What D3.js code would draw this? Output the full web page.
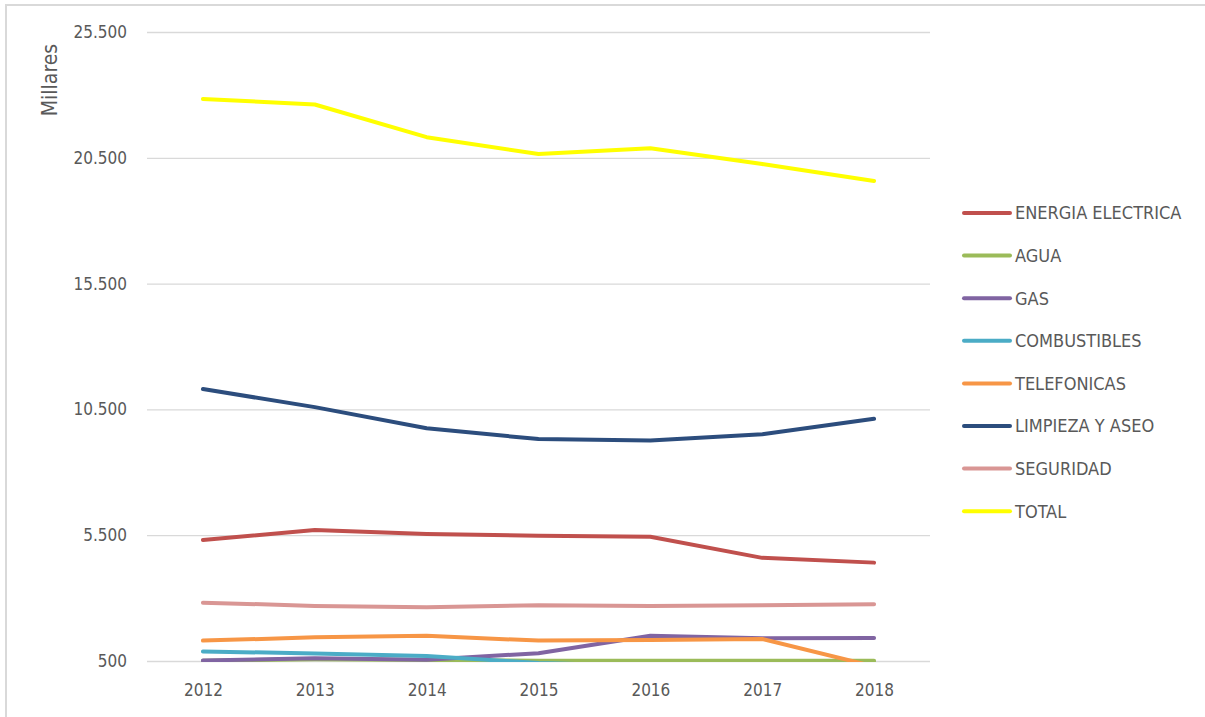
<!DOCTYPE html>
<html>
<head>
<meta charset="utf-8">
<script src="https://cdn.jsdelivr.net/npm/d3@7"></script>
<style>
  body { margin: 0; background: #fff; }
  text { font-family: "DejaVu Sans Condensed", "Liberation Sans", Arial, sans-serif; }
</style>
</head>
<body>
<svg id="chart"></svg>
<script>
const years = ["2012", "2013", "2014", "2015", "2016", "2017", "2018"];
const seriesNames = ["ENERGIA ELECTRICA", "AGUA", "GAS", "COMBUSTIBLES", "TELEFONICAS", "LIMPIEZA Y ASEO", "SEGURIDAD", "TOTAL"];
const energia = [5310, 5710, 5550, 5480, 5440, 4600, 4410];
const agua = [510, 570, 540, 510, 510, 510, 505];
const gas = [520, 610, 550, 810, 1500, 1400, 1410];
const combustibles = [880, 800, 700, 420, 300, 300, 300];
const telefonicas = [1310, 1440, 1500, 1310, 1335, 1375, 285];
const limpieza = [11310, 10590, 9750, 9320, 9260, 9510, 10130];
const seguridad = [2820, 2690, 2640, 2720, 2690, 2720, 2760];
const total = [22840, 22620, 21320, 20650, 20880, 20250, 19580];
const yTicks = [500, 5500, 10500, 15500, 20500, 25500];
const colors = ["#c0504d", "#9bbb59", "#8064a2", "#4bacc6", "#f79646", "#2c4d7d", "#d99694", "#ffff00"];

const values = [energia, agua, gas, combustibles, telefonicas, limpieza, seguridad, total];
const series = seriesNames.map((name, i) => ({name, color: colors[i], values: values[i]}));

const width = 1205;
const height = 717;
const margin = {top: 32, left: 147, bottom: 56, right: 275};

const svg = d3.select("#chart")
    .attr("width", width)
    .attr("height", height)
    .attr("viewBox", [0, 0, width, height]);

// outer chart border (cut off by the picture edge)
svg.append("rect")
    .attr("x", 6).attr("y", 5)
    .attr("width", width + 20).attr("height", height + 20)
    .attr("fill", "none")
    .attr("stroke", "#d9d9d9")
    .attr("stroke-width", 2);

const x = d3.scalePoint()
    .domain(years)
    .range([margin.left, width - margin.right])
    .padding(0.5);

const y = d3.scaleLinear()
    .domain([500, 25500])
    .range([height - margin.bottom, margin.top]);

// gridlines + y labels
const yAxis = g => g
    .attr("transform", `translate(${margin.left},0)`)
    .call(d3.axisLeft(y)
        .tickValues(yTicks)
        .tickSize(-(width - margin.right - margin.left))
        .tickPadding(20)
        .tickFormat(d => d3.format(",")(d).replace(",", ".")))
    .call(g => g.select(".domain").remove())
    .call(g => g.selectAll(".tick line").attr("stroke", "#d9d9d9").attr("stroke-width", 1.3))
    .call(g => g.selectAll(".tick text")
        .attr("fill", "#595959")
        .attr("font-size", 17));

svg.append("g").call(yAxis);

const xAxis = g => g
    .attr("transform", `translate(0,${height - margin.bottom})`)
    .call(d3.axisBottom(x).tickSize(0).tickPadding(23))
    .call(g => g.select(".domain").remove())
    .call(g => g.selectAll(".tick text")
        .attr("fill", "#595959")
        .attr("font-size", 17));

svg.append("g").call(xAxis);

svg.append("text")
    .attr("transform", `translate(57,${margin.top + 48}) rotate(-90)`)
    .attr("text-anchor", "middle")
    .attr("fill", "#595959")
    .attr("font-size", 21)
    .text("Millares");

svg.append("clipPath")
    .attr("id", "plot")
    .append("rect")
    .attr("x", 0)
    .attr("y", margin.top - 10)
    .attr("width", width)
    .attr("height", height - margin.bottom - margin.top + 11);

const line = d3.line()
    .x((d, i) => x(years[i]))
    .y(d => y(d));

svg.append("g")
    .attr("clip-path", "url(#plot)")
    .selectAll("path")
    .data(series)
    .join("path")
    .attr("d", d => line(d.values))
    .attr("fill", "none")
    .attr("stroke", d => d.color)
    .attr("stroke-width", 4)
    .attr("stroke-linecap", "round")
    .attr("stroke-linejoin", "round");

// legend
const legend = svg.append("g")
    .selectAll("g")
    .data(series)
    .join("g")
    .attr("transform", (d, i) => `translate(964,${213 + i * 42.6})`);

legend.append("line")
    .attr("x1", 0).attr("x2", 46)
    .attr("stroke", d => d.color)
    .attr("stroke-width", 4)
    .attr("stroke-linecap", "round");

legend.append("text")
    .attr("x", 51)
    .attr("dy", "0.35em")
    .attr("fill", "#595959")
    .attr("font-size", 18)
    .text(d => d.name);
</script>
</body>
</html>
